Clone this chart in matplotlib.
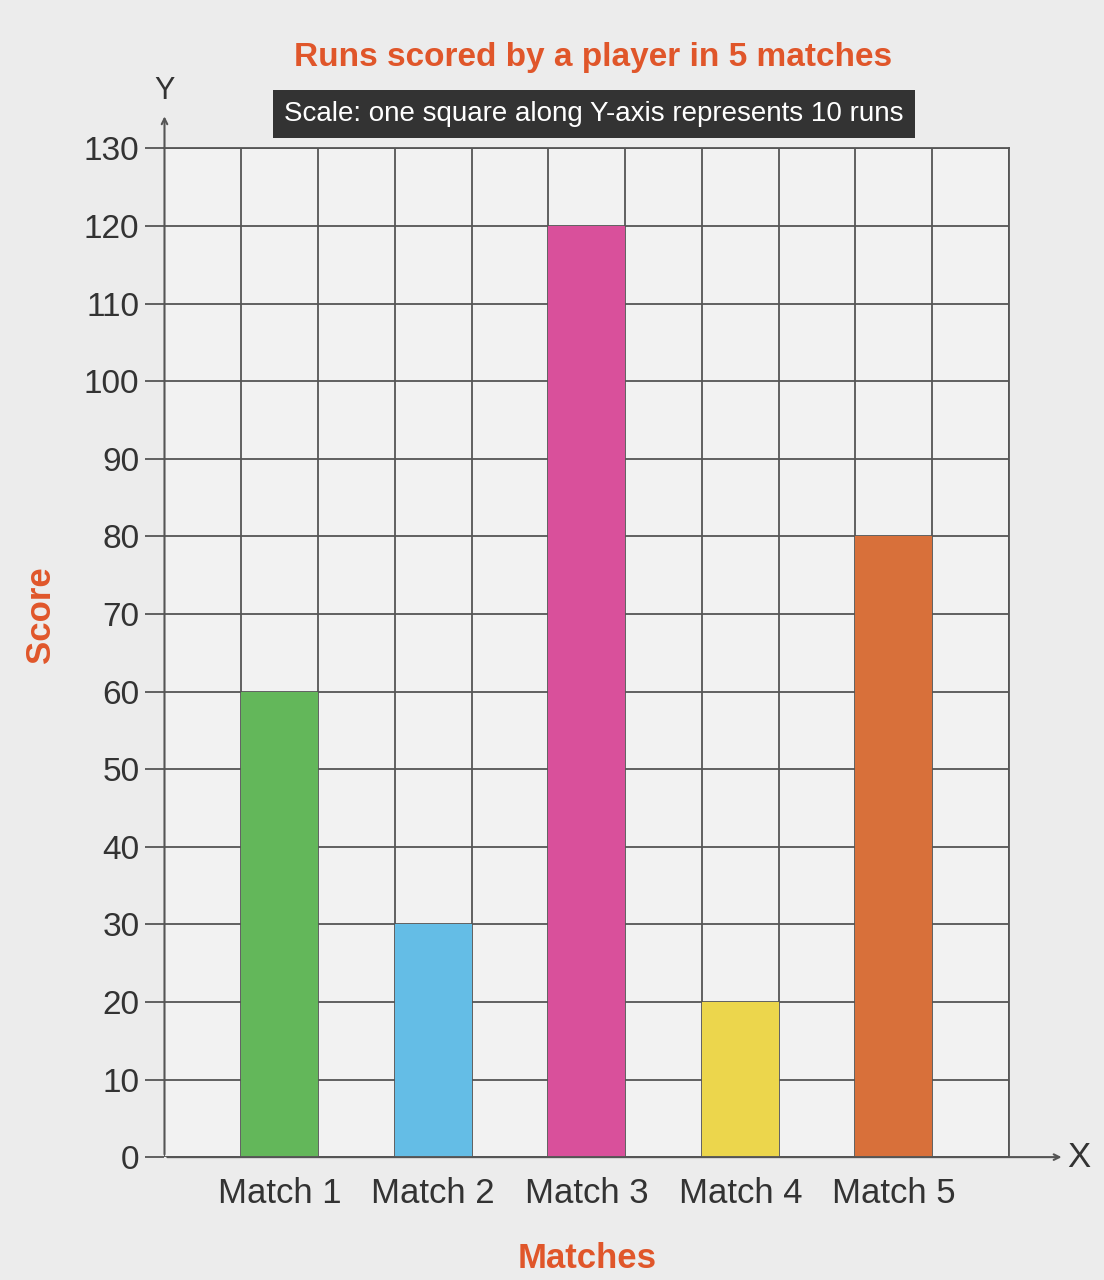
import matplotlib.pyplot as plt
import numpy as np

# data
matches = ['Match 1', 'Match 2', 'Match 3', 'Match 4', 'Match 5']
runs = [60, 30, 120, 20, 80]
bar_colors = ['#63b75a', '#64bde6', '#d9509b', '#ecd64c', '#d8703a']
y_ticks = list(range(0, 140, 10))

title_color = '#e0562a'
line_color = '#555555'

plt.rcParams['font.family'] = ['Liberation Sans', 'DejaVu Sans']

fig = plt.figure(figsize=(11.04, 12.8), dpi=100, facecolor='#ececec')
ax = fig.add_axes([0.149, 0.096, 0.765, 0.788])
ax.set_facecolor('#f2f2f2')

# bars sit in every second square of the grid
x_pos = np.arange(len(matches)) * 2 + 1.5
ax.bar(x_pos, runs, width=1.0, color=bar_colors, zorder=3)

ax.set_xlim(0, 11)
ax.set_ylim(0, 130)
ax.set_xticks(np.arange(0, 12), minor=True)
ax.set_yticks(y_ticks)
ax.set_yticklabels([str(v) for v in y_ticks], fontsize=24, color='#333333')
ax.set_xticks(x_pos)
ax.set_xticklabels(matches, fontsize=25, color='#333333')
ax.tick_params(axis='x', which='both', length=0, pad=14)
ax.tick_params(axis='y', length=14, width=1.3, color=line_color, pad=4)

ax.grid(True, which='minor', axis='x', color=line_color, lw=1.3, zorder=1)
ax.grid(True, which='major', axis='y', color=line_color, lw=1.3, zorder=1)
for s in ['top', 'right']:
    ax.spines[s].set_color(line_color)
    ax.spines[s].set_linewidth(1.3)
ax.spines['left'].set_visible(False)
ax.spines['bottom'].set_visible(False)

# axis arrows
ax.annotate('', xy=(0, 134.5), xytext=(0, 0), xycoords='data',
            arrowprops=dict(arrowstyle='->', color=line_color, lw=1.5),
            annotation_clip=False)
ax.annotate('', xy=(11.72, 0), xytext=(0, 0), xycoords='data',
            arrowprops=dict(arrowstyle='->', color=line_color, lw=1.5),
            annotation_clip=False)
ax.text(0, 135.5, 'Y', ha='center', va='bottom', fontsize=22, color='#333333')
ax.text(11.76, 0, 'X', ha='left', va='center', fontsize=25, color='#333333')

# titles
fig.text(0.537, 0.955, 'Runs scored by a player in 5 matches', ha='center',
         va='center', fontsize=24, fontweight='bold', color=title_color)
fig.text(0.538, 0.911, 'Scale: one square along Y-axis represents 10 runs',
         ha='center', va='center', fontsize=20, color='white',
         bbox=dict(boxstyle='square,pad=0.4', fc='#333333', ec='none'))

fig.text(0.037, 0.52, 'Score', rotation=90, ha='center', va='center',
         fontsize=25, fontweight='bold', color=title_color)
fig.text(0.532, 0.009, 'Matches', ha='center', va='baseline',
         fontsize=25, fontweight='bold', color=title_color)

fig.savefig('out.png', dpi=100, facecolor=fig.get_facecolor())
